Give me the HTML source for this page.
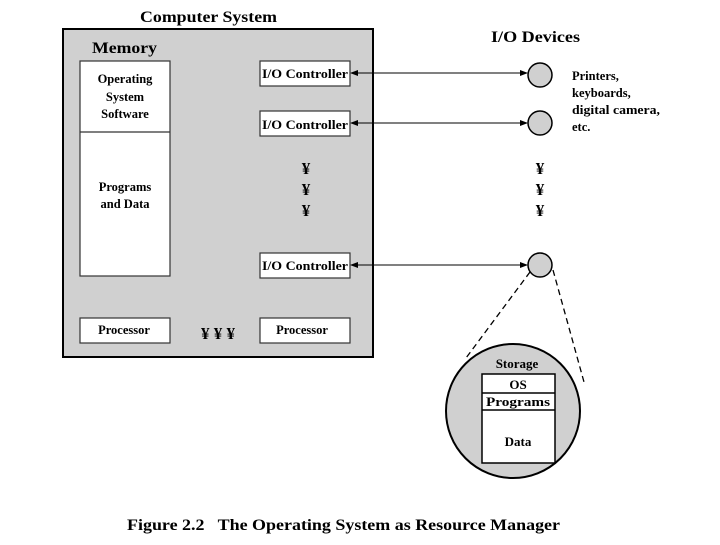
<!DOCTYPE html>
<html><head><style>
body{margin:0;background:#fff}
svg text{font-family:"Liberation Serif",serif;font-weight:bold}
</style></head><body>
<svg width="720" height="540" viewBox="0 0 720 540" xmlns="http://www.w3.org/2000/svg">
<defs><marker id="a" markerWidth="8" markerHeight="8" refX="7" refY="4" orient="auto-start-reverse" markerUnits="userSpaceOnUse"><path d="M0,1 L8,4 L0,7 Z" fill="#000"/></marker></defs>
<text x="140" y="22" font-size="16" textLength="137" lengthAdjust="spacingAndGlyphs">Computer System</text>
<rect x="63" y="29" width="310" height="328" fill="#d0d0d0" stroke="#000" stroke-width="2"/>
<text x="92" y="53" font-size="16" textLength="65" lengthAdjust="spacingAndGlyphs">Memory</text>
<rect x="80" y="61" width="90" height="215" fill="#fff" stroke="#333" stroke-width="1.2"/>
<line x1="80" y1="132" x2="170" y2="132" stroke="#333" stroke-width="1.2"/>
<g font-size="12.5" text-anchor="middle">
<text x="125" y="83">Operating</text><text x="125" y="101">System</text><text x="125" y="118">Software</text>
<text x="125" y="191">Programs</text><text x="125" y="208">and Data</text>
</g>
<g fill="#fff" stroke="#333" stroke-width="1.2">
<rect x="260" y="61" width="90" height="25"/><rect x="260" y="111" width="90" height="25"/><rect x="260" y="253" width="90" height="25"/>
<rect x="80" y="318" width="90" height="25"/><rect x="260" y="318" width="90" height="25"/>
</g>
<g font-size="12.5">
<text x="262" y="78" textLength="86" lengthAdjust="spacingAndGlyphs">I/O Controller</text>
<text x="262" y="129" textLength="86" lengthAdjust="spacingAndGlyphs">I/O Controller</text>
<text x="262" y="270" textLength="86" lengthAdjust="spacingAndGlyphs">I/O Controller</text>
</g>
<g font-size="12.5" text-anchor="middle">
<text x="124" y="334">Processor</text><text x="302" y="334">Processor</text>
</g>
<g font-size="17" text-anchor="middle">
<text x="306" y="174">¥</text><text x="306" y="195">¥</text><text x="306" y="216">¥</text>
<text x="540" y="174">¥</text><text x="540" y="195">¥</text><text x="540" y="216">¥</text>
<text x="218" y="339">¥ ¥ ¥</text>
</g>
<text x="491" y="42" font-size="16" textLength="89" lengthAdjust="spacingAndGlyphs">I/O Devices</text>
<g stroke="#000" stroke-width="1" marker-start="url(#a)" marker-end="url(#a)">
<line x1="351" y1="73" x2="527" y2="73"/><line x1="351" y1="123" x2="527" y2="123"/><line x1="351" y1="265" x2="527" y2="265"/>
</g>
<g fill="#d0d0d0" stroke="#000" stroke-width="1.5">
<circle cx="540" cy="75" r="12"/><circle cx="540" cy="123" r="12"/><circle cx="540" cy="265" r="12"/>
</g>
<g font-size="12.5"><text x="572" y="80">Printers,</text><text x="572" y="97">keyboards,</text><text x="572" y="114" textLength="88" lengthAdjust="spacingAndGlyphs">digital camera,</text><text x="572" y="131">etc.</text></g>
<g stroke="#000" stroke-dasharray="6,4" stroke-width="1.3"><line x1="530" y1="272" x2="466" y2="358"/><line x1="553" y1="270" x2="584" y2="382"/></g>
<circle cx="513" cy="411" r="67" fill="#d0d0d0" stroke="#000" stroke-width="2"/>
<text x="517" y="368" font-size="13" text-anchor="middle">Storage</text>
<rect x="482" y="374" width="73" height="89" fill="#fff" stroke="#000" stroke-width="1.5"/>
<line x1="482" y1="393" x2="555" y2="393" stroke="#000" stroke-width="1.5"/>
<line x1="482" y1="410" x2="555" y2="410" stroke="#000" stroke-width="1.5"/>
<g font-size="13" text-anchor="middle"><text x="518" y="389">OS</text><text x="518" y="406" textLength="64" lengthAdjust="spacingAndGlyphs">Programs</text><text x="518" y="446">Data</text></g>
<text x="127" y="530" font-size="16" textLength="433" lengthAdjust="spacingAndGlyphs" xml:space="preserve">Figure 2.2   The Operating System as Resource Manager</text>
</svg>
</body></html>
